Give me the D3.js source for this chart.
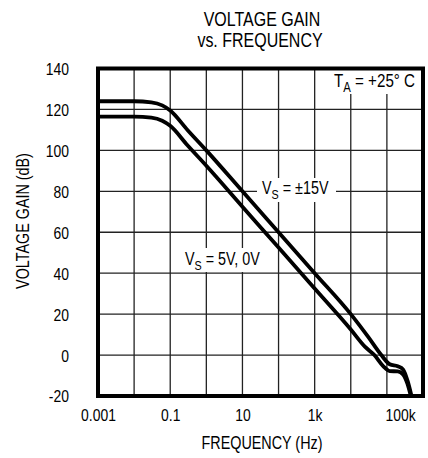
<!DOCTYPE html>
<html>
<head>
<meta charset="utf-8">
<script src="https://cdn.jsdelivr.net/npm/d3@7"></script>
<style>
  body { margin: 0; background: #fff; }
  svg { display: block; }
  text { font-family: "Liberation Sans", Arial, sans-serif; fill: #000; }
</style>
</head>
<body>
<div id="content"></div>
<script>
// tick values and labels
var xTicks = [0.001, 0.1, 10, 1000, 100000];
var xTickLabels = ["0.001", "0.1", "10", "1k", "100k"];
var xGrid = [0.01, 0.1, 1, 10, 100, 1000, 10000, 100000];
var yTicks = [-20, 0, 20, 40, 60, 80, 100, 120, 140];
var yGrid = [0, 20, 40, 60, 80, 100, 120];

// VS = +-15V (frequency Hz, gain dB)
var freq15 = [0.001, 0.01, 0.03, 0.06, 0.1, 0.3, 1, 10, 100, 1000, 10000, 30000, 70000, 120000, 200000, 280000, 380000, 480000];
var gain15 = [124, 124, 123.5, 122, 119.5, 110, 100, 80, 60, 40, 20, 9, 0, -4.5, -5.5, -7, -13, -20];

// VS = 5V, 0V
var freq5 = [0.001, 0.01, 0.03, 0.06, 0.1, 0.3, 1, 10, 100, 1000, 10000, 25000, 45000, 80000, 120000, 200000, 280000, 370000, 460000];
var gain5 = [116.5, 116.5, 116, 114.5, 112, 102.5, 92.5, 72.5, 52.5, 32.5, 12.5, 4, 0, -5.5, -7.8, -8, -9.5, -14, -20];

drawChart();

function drawChart() {
    var W = 428, H = 458;
    var pL = 98, pR = 423, pT = 68.5, pB = 396;
    var SX = 0.82; // narrow type

    var svg = d3.select('#content').append('svg')
        .attr('width', W).attr('height', H);

    var x = d3.scaleLog().domain([0.001, 1e6]).range([pL, pR]);
    var y = d3.scaleLinear().domain([-20, 140]).range([pB, pT]);

    function addText(parent, xp, yp, size, anchor, str) {
        return parent.append("text")
            .attr("transform", "translate(" + xp + "," + yp + ") scale(" + SX + ",1)")
            .attr("text-anchor", anchor).style("font-size", size + "px").text(str);
    }

    // title
    addText(svg, 262, 26, 19.5, "middle", "VOLTAGE GAIN");
    addText(svg, 260, 47, 19.5, "middle", "vs. FREQUENCY");

    // grid
    var grid = svg.append("g").attr("stroke", "#222").attr("stroke-width", 1.3);
    grid.selectAll("line.v").data(xGrid).enter().append("line").attr("class", "v")
        .attr("x1", function(d){ return x(d); }).attr("x2", function(d){ return x(d); })
        .attr("y1", pT).attr("y2", pB);
    grid.selectAll("line.h").data(yGrid).enter().append("line").attr("class", "h")
        .attr("y1", function(d){ return y(d); }).attr("y2", function(d){ return y(d); })
        .attr("x1", pL).attr("x2", pR);

    // axes
    var yAxis = svg.append("g").attr("transform", "translate(" + pL + ",0)")
        .call(d3.axisLeft(y).tickValues(yTicks).tickSize(0).tickPadding(29)
            .tickFormat(function(d){ return String(d); }));
    yAxis.select(".domain").remove();
    yAxis.selectAll("text").style("font-size", "17px").attr("dy", "0.35em")
        .attr("x", null).attr("transform", "translate(-29,0) scale(" + SX + ",1)");

    var xAxis = svg.append("g").attr("transform", "translate(0," + pB + ")")
        .call(d3.axisBottom(x).tickValues(xTicks).tickSize(0).tickPadding(13)
            .tickFormat(function(d, i){ return xTickLabels[i]; }));
    xAxis.select(".domain").remove();
    xAxis.selectAll("text").style("font-size", "17px").attr("transform", "scale(" + SX + ",1)");
    xAxis.selectAll("text").filter(function(d){ return d === 100000; }).attr("dx", "0.95em");

    addText(svg, 262, 449, 17.5, "middle", "FREQUENCY (Hz)");
    addText(svg, 0, 0, 17.5, "middle", "VOLTAGE GAIN (dB)")
        .attr("transform", "translate(29,221) rotate(-90) scale(" + SX + ",1)");

    // labels with white background
    function label(xp, yp, main, sub, rest, size, bg) {
        svg.append("rect").attr("x", bg[0]).attr("y", bg[1]).attr("width", bg[2]).attr("height", bg[3])
            .attr("fill", "#fff");
        var t = addText(svg, xp, yp, size, "start", null);
        t.append("tspan").text(main);
        t.append("tspan").attr("dy", 5).style("font-size", (size * 0.75) + "px").text(sub);
        t.append("tspan").attr("dy", -5).text(rest);
    }
    label(334, 86.5, "T", "A", " = +25\u00B0 C", 18.5, [330, 70, 80, 24]);
    label(262, 193.5, "V", "S", " = \u00B115V", 17.5, [257, 178, 79, 24]);
    label(185, 265, "V", "S", " = 5V, 0V", 17.5, [181, 248, 84, 24]);

    // curves
    var line = d3.line()
        .x(function(d){ return x(d[0]); })
        .y(function(d){ return y(d[1]); })
        .curve(d3.curveMonotoneX);

    svg.append("clipPath").attr("id", "clip").append("rect")
        .attr("x", pL).attr("y", pT).attr("width", pR - pL).attr("height", pB - pT);

    var curves = svg.append("g").attr("clip-path", "url(#clip)");
    curves.append("path").datum(d3.zip(freq15, gain15)).attr("d", line)
        .attr("fill", "none").attr("stroke", "#000").attr("stroke-width", 3.8).attr("stroke-linejoin", "round");
    curves.append("path").datum(d3.zip(freq5, gain5)).attr("d", line)
        .attr("fill", "none").attr("stroke", "#000").attr("stroke-width", 3.8).attr("stroke-linejoin", "round");

    // frame
    svg.append("rect").attr("x", pL).attr("y", pT).attr("width", pR - pL).attr("height", pB - pT)
        .attr("fill", "none").attr("stroke", "#000").attr("stroke-width", 4);
}
</script>
</body>
</html>
